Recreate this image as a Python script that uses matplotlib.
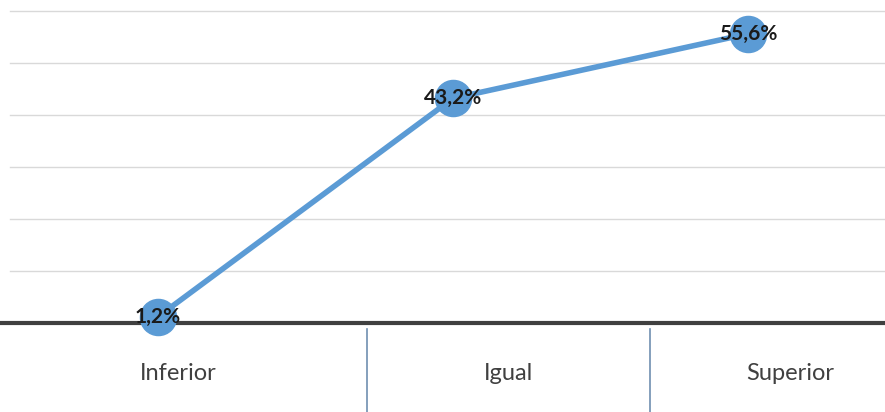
import matplotlib
matplotlib.use("Agg")
import matplotlib.pyplot as plt
from matplotlib.lines import Line2D

categories = ["Inferior", "Igual", "Superior"]
values = [1.2, 43.2, 55.6]
gridlines = [10, 20, 30, 40, 50, 60]

W, H = 885, 412
fig = plt.figure(figsize=(W / 100, H / 100), dpi=100)
ax = fig.add_axes([0, (H - 323) / H, 1, 323 / H])

x = list(range(len(categories)))
x0_px, step_px = 158, 295
ax.set_xlim(-x0_px / step_px, (W - x0_px) / step_px)
ax.set_ylim(0, 62.1)

for g in gridlines:
    ax.axhline(g, xmin=10 / W, xmax=1, color="#d9d9d9", lw=1, zorder=1)
ax.axhline(0, color="#404040", lw=3, zorder=2, clip_on=False)

blue = "#5b9bd5"
ax.plot(x, values, color=blue, lw=4, zorder=3, solid_capstyle="round", clip_on=False)
ax.plot(x, values, "o", color=blue, ms=26, zorder=4, clip_on=False)

for xi, v in zip(x, values):
    ax.text(xi, v, f"{v:.1f}%".replace(".", ","), ha="center", va="center",
            fontsize=15, fontweight="bold", family="Lato", color="#1a1a1a", zorder=5)

ax.axis("off")

# table-style category row below the axis
for xpx in (367, 650):
    fig.add_artist(Line2D([xpx / W, xpx / W], [0, 1 - 329 / H], color="#6f8fb0", lw=1.2))
for name, xpx in zip(categories, (178, 509, 790)):
    fig.text(xpx / W, 1 - 374 / H, name, ha="center", va="center",
             fontsize=17, family="Lato", color="#404040")

fig.savefig("out.png", dpi=100)
